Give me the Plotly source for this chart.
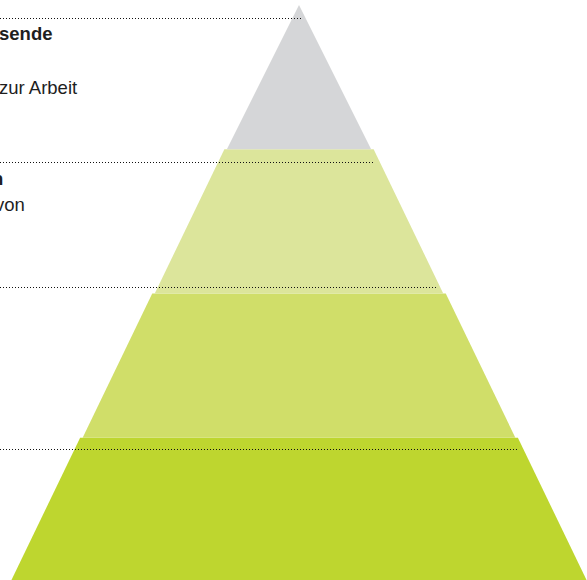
import plotly.graph_objects as go

# ---- data ----
layer_names = ["Stufe 1", "Stufe 2", "Stufe 3", "Stufe 4"]      # bottom -> top
layer_heights = [1, 1, 1, 1]
guide_levels = [3.9064, 2.9081, 2.0416, 0.9185]                 # dotted leader lines
label_texts = ["sende", "zur Arbeit", "n", "von"]
label_levels = [3.80, 3.425, 2.80, 2.62]
label_bold = [True, False, True, False]

# ---- style ----
layer_colors = ["#bed62f", "#d0de69", "#dce59b", "#d5d6d8"]
total = sum(layer_heights)
PX_LEVEL = 144.25
PX_HALF = 288.5
XR = [-299 / PX_HALF, 288 / PX_HALF]
YR = [(582 - 580) / PX_LEVEL, 582 / PX_LEVEL]
STEP = 2.5 / PX_HALF

def half(level):
    return (total - level) / total

fig = go.Figure()

base = 0
for i, (name, h) in enumerate(zip(layer_names, layer_heights)):
    top = base + h
    hb = half(base)
    ht = half(top) + (STEP if top < total else 0)
    fig.add_trace(go.Scatter(
        x=[-hb, hb, ht, -ht, -hb],
        y=[base, base, top, top, base],
        fill="toself", fillcolor=layer_colors[i],
        line=dict(width=0), mode="lines", name=name, hoverinfo="name",
    ))
    base = top

for lv in guide_levels:
    fig.add_trace(go.Scatter(
        x=[XR[0], half(lv) - 3 / PX_HALF], y=[lv, lv], mode="lines",
        line=dict(color="#111111", width=1.2, dash="1px,2px"), hoverinfo="skip",
    ))

left_shifts = [-3, -3, -10, -7]
for txt, lv, b, sh in zip(label_texts, label_levels, label_bold, left_shifts):
    fig.add_annotation(
        x=0, xref="paper", y=lv, yref="y", xanchor="left", yanchor="middle",
        xshift=sh, text=f"<b>{txt}</b>" if b else txt, showarrow=False,
        font=dict(family="Liberation Sans", size=18.5, color="#1e1e1e"),
    )

fig.update_layout(
    width=587, height=580, margin=dict(l=0, r=0, t=0, b=0),
    paper_bgcolor="white", plot_bgcolor="white", showlegend=False,
    xaxis=dict(range=XR, visible=False, fixedrange=True),
    yaxis=dict(range=YR, visible=False, fixedrange=True),
)

fig.write_html("out.html")
